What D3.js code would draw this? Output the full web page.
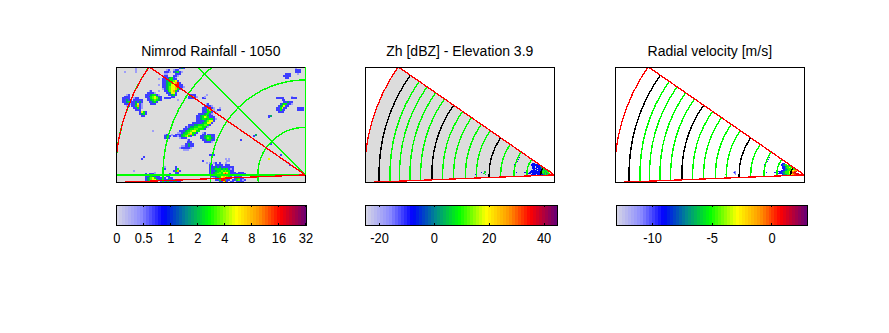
<!DOCTYPE html>
<html>
<head>
<meta charset="utf-8">
<script src="https://cdn.jsdelivr.net/npm/d3@7"></script>
<style>
body { margin: 0; background: #fff; }
text { font-family: "Liberation Sans", sans-serif; fill: #000; }
</style>
</head>
<body>
<div id="chart"></div>
<script>
// colormap shared by the three bars
const cmapStops = [0, 0.13, 0.247, 0.37, 0.49, 0.63, 0.75, 0.86, 1];
const cmapColors = ["#d8d8e4", "#8c8cff", "#0000ff", "#008c8c", "#00ff00", "#ffff00", "#ff9600", "#ff0000", "#640078"];

const titles = ["Nimrod Rainfall - 1050", "Zh [dBZ] - Elevation 3.9", "Radial velocity [m/s]"];

const rainTicks = [0, 0.5, 1, 2, 4, 8, 16, 32];
const zhTicks = [-20, 0, 20, 40];
const velTicks = [-10, -5, 0];
const zhDomain = [-25, 45];
const velDomain = [-13, 3];

// value of each digit used in the cell runs below
const rainLevels = [0, 0.35, 0.7, 1.8, 2.6, 3.6, 5.5, 9, 16, 28];
const zhLevels = [0, -15, -7, 3, 10, 18, 28, 36, 42, 44];
const velLevels = [0, -11, -9.5, -7, -5, -3, -1.5, 0, 1, 2.5];

// range rings on the rainfall map [km]
const rangeRings = [50, 100, 150, 200];
// bearings of the spokes on the rainfall map [deg]
const spokes = [315, 270];
// height rings on the scan panels: ground range [km]
const heightRings = [14.4, 29, 42.5, 56.5, 68.7, 82, 93.5, 106, 117.5, 129, 140.7, 152, 163, 173, 184.5];
const blackRings = [0, 4, 9, 14];
// scan sector
const sectorRange = 200;
const sectorAz = [267.7, 304.7];

// rainfall cells on a 2 km grid: [col, row, digits]
const rainRuns = [
  [4,2,"1"],[10,0,"1"],[10,1,"1"],[10,2,"1"],[22,6,"1"],[19,33,"1"],[32,17,"1"],[22,9,"1"],[22,12,"1"],
  [33,0,"232"],[26,1,"12"],[25,2,"2221"],[30,1,"122"],[30,2,"23421"],[31,3,"222"],[25,3,"11"],[24,4,"122"],[30,4,"221"],
  [25,5,"2223421"],[24,6,"22234422"],[24,7,"223344562"],[24,8,"2234456782"],[24,9,"22344668822"],
  [24,10,"223456678221"],[24,11,"12345667421"],[25,12,"22456742"],[26,13,"223662"],[27,14,"22342"],[29,15,"22"],
  [17,12,"12"],[16,13,"22221"],[15,14,"22234421"],[15,15,"223456422"],[16,16,"22456532.2222"],[16,17,"22345432"],[17,18,"22342"],[18,19,"222"],
  [5,14,"12"],[4,15,"222"],[3,16,"2222"],[3,17,"22322"],[3,18,"22342"],[4,19,"2221"],[5,20,"12"],
  [9,16,"122"],[9,17,"22222"],[8,18,"223232"],[8,19,"223621"],[8,20,"224721"],[9,21,"22421"],[10,22,"222"],
  [12,23,"2642"],[12,24,"2342"],[13,25,"22"],
  [39,14,"222"],[38,15,"24721"],[38,16,"2222"],[45,16,"22"],[46,15,"1"],[53,22,"22"],[54,21,"1"],[47,14,"1"],[52,23,"1"],
  [47,19,"12"],[46,20,"22221"],[45,21,"2227821"],[45,22,"2234761"],[45,23,"222442"],[43,24,"22234421"],[42,25,"223445322"],
  [42,26,"22346542"],[50,26,"22"],[42,27,"22344344421"],[42,28,"2222345662"],[40,29,"22222344662"],
  [38,30,"222334445542"],[36,31,"2123344554421"],[35,32,"222344554442"],[33,33,"22234456644"],
  [32,34,"11234456442"],[31,35,"22234457742"],[31,36,"212345642"],[33,37,"1222"],
  [25,35,"12"],[25,36,"2342.2"],[25,37,"232"],[29,35,"1"],
  [45,34,"12"],[45,35,"22.2222"],[44,36,"22344422"],[44,37,"22345432"],[45,38,"2234422"],[46,39,"22221"],
  [37,38,"12"],[37,39,"222"],[36,40,"22322"],[34,41,"1122322"],[33,42,"1222221"],[35,43,"111"],
  [84,16,"2"],[85,16,"222"],[87,17,"22"],[88,18,"22322"],[86,19,"2344221"],[85,20,"234622"],[84,21,"224622"],[84,22,"22422"],[85,23,"222"],
  [92,15,"1"],[92,16,"222"],[95,21,"2222"],[95,22,"2222"],[80,25,"23"],[80,26,"2"],
  [89,3,"222"],[88,4,"2222"],[89,5,"22"],[94,0,"1"],[94,1,"222"],[94,2,"222"],[95,3,"1"],
  [73,35,"3"],[72,36,"2"],[65,38,"2"],[49,46,"222"],[50,47,"1"],[45,49,"2"],[47,50,"1"],
  [57,48,"1.1"],[58,49,"11"],[57,50,"1"],[31,52,"2"],[31,53,"24"],[30,54,"2472"],[31,55,"22"],[31,56,"2"],
  [25,52,"1"],[25,53,"2"],[13,48,"2"],[14,47,"2"],[9,54,"1"],[80,48,"6"],[86,46,"2"],[91,51,"2"],[90,50,"1"],[81,40,"2"],
  [49,50,"1.12.2"],[49,51,"22.2222.222"],[49,52,"2223232222222"],[49,53,"2234443434212"],[49,54,"2223445454422"],
  [49,55,"22344546764222"],[49,56,"223455478742222"],[50,57,"22344676542.2222"],[51,58,"1234674422.23422"],
  [52,59,"22488422.2245212"],[54,60,"22682.22.2222"],[64,55,"222"],[64,56,"2222"],
  [15,56,"2.222"],[15,57,"2234322"],[15,58,"23456422"],[15,59,"23456642"],[15,60,"22342"],
  [22,57,"2.2.22"],[22,58,"2222.222"],[22,59,"23422342222"],[23,60,"22234223322"],[28,56,"2"],[20,55,"1"]
];

// echoes near the radar, 1 km cells: [km west edge, km north, digits]
const zhRuns = [
  [-24,13,"2.22"],[-25,12,"22222.2"],[-24,11,"222.222"],[-25,10,"22.2222222"],[-24,9,"2222.22223"],
  [-23,8,"222.222223.3"],[-24,7,"222222.2223344"],[-22,6,"22.22222334344"],
  [-25,5,"22.2222.222234343434"],[-30,4,"22..2222222222233444344"],
  [-32,3,"2222.2222.2222222334434344"],[-30,2,"22222.2222222222234343344"],[-25,1,"222222.222222334343443"],
  [-74,4,"34"],[-74,3,"43"],[-75,2,"34"],[-73,1,"3"],[-83,1,"2"],[-77,3,"2"],
  [-41,12,"2"],[-42,11,"22"],[-41,10,"2"],[-39,15,"2"],[-38,17,"2"],[-37,19,"2"],[-40,3,"2"]
];
const velRuns = [
  [-24,13,"2222"],[-25,12,"223342"],[-24,11,"223344"],[-25,10,"2223344442"],[-24,9,"2222334444"],
  [-23,8,"22234445443"],[-24,7,"22223344445444"],[-22,6,"22333444554455"],
  [-25,5,"22.223344444556666"],[-30,4,"2222222233444455566778"],
  [-32,3,"2222.222233344445667788"],[-28,2,"2222223344445566778888"],[-23,1,"233334445566778889"],
  [-74,4,"11"],[-75,3,"121"],[-74,2,"11"],[-73,1,"1"],[-83,1,"4"],
  [-41,12,"2"],[-42,11,"22"],[-41,10,"2"],[-39,15,"2"],[-38,17,"2"],[-37,19,"2"],[-40,3,"2"]
];

const width = 889;
const height = 333;
const panelW = 189;
const panelH = 115;
const panelY = 67;
const panelX = [116.3, 365.3, 615.3];
const barX = [[116.3, 306.5], [365.3, 557.3], [616.3, 807.3]];
const barY = 205;
const barH = 20;

const svg = d3.select("#chart").append("svg")
    .attr("width", width)
    .attr("height", height);

const cmap = d3.scaleLinear().domain(cmapStops).range(cmapColors).clamp(true);
const nBands = 64;
const band = f => cmap((Math.min(Math.floor(f * nBands), nBands - 1) + 0.5) / nBands);

const rainPos = d3.scaleLinear().domain(rainTicks).range(d3.range(8).map(k => k / 7.04)).clamp(true);
const zhPos = d3.scaleLinear().domain(zhDomain).range([0, 1]).clamp(true);
const velPos = d3.scaleLinear().domain(velDomain).range([0, 1]).clamp(true);

function runsToCells(runs, levels) {
    const cells = [];
    runs.forEach(function (run) {
        run[2].split("").forEach(function (ch, i) {
            if (ch !== ".") cells.push({ c: run[0] + i, r: run[1], v: levels[+ch] });
        });
    });
    return cells;
}

function drawPanel(idx) {
    const g = svg.append("g");
    const x0 = panelX[idx];
    const xKm = d3.scaleLinear().domain([-199, 0]).range([x0, x0 + panelW]);
    const yKm = d3.scaleLinear().domain([113.6, -7.45]).range([panelY, panelY + panelH]);
    const rPx = km => xKm(0) - xKm(-km);
    const origin = "translate(" + xKm(0) + "," + yKm(0) + ")";

    const clipId = "clip" + idx;
    svg.append("clipPath").attr("id", clipId).append("rect")
        .attr("x", x0).attr("y", panelY).attr("width", panelW).attr("height", panelH);
    const inner = g.append("g").attr("clip-path", "url(#" + clipId + ")");

    const az = d => d * Math.PI / 180;
    const sector = d3.arc().innerRadius(0).outerRadius(rPx(sectorRange))
        .startAngle(az(sectorAz[0])).endAngle(az(sectorAz[1]));

    if (idx === 0) {
        inner.append("rect").attr("x", x0).attr("y", panelY)
            .attr("width", panelW).attr("height", panelH).attr("fill", "#dcdcdc");
        inner.selectAll("rect.cell").data(runsToCells(rainRuns, rainLevels)).enter().append("rect")
            .attr("class", "cell")
            .attr("x", d => xKm(-199 + d.c * 2))
            .attr("y", d => yKm(113.6 - d.r * 2))
            .attr("width", 2)
            .attr("height", 2)
            .attr("shape-rendering", "crispEdges")
            .attr("fill", d => band(rainPos(d.v)));
    } else {
        if (idx === 1) {
            inner.append("path").attr("d", sector()).attr("transform", origin)
                .attr("fill", "#dcdcdc").attr("shape-rendering", "crispEdges");
        }
        const cells = idx === 1 ? runsToCells(zhRuns, zhLevels) : runsToCells(velRuns, velLevels);
        const pos = idx === 1 ? zhPos : velPos;
        inner.selectAll("rect.cell").data(cells).enter().append("rect")
            .attr("class", "cell")
            .attr("x", d => xKm(d.c))
            .attr("y", d => yKm(d.r))
            .attr("width", 1)
            .attr("height", 1)
            .attr("shape-rendering", "crispEdges")
            .attr("fill", d => band(pos(d.v)));
    }

    const ring = d3.arc().innerRadius(d => d.r).outerRadius(d => d.r)
        .startAngle(d => az(d.a0)).endAngle(d => az(d.a1));

    if (idx === 0) {
        inner.selectAll("path.ring").data(rangeRings.map(km => ({ r: rPx(km), a0: 0, a1: 360 }))).enter().append("path")
            .attr("d", ring).attr("transform", origin)
            .attr("fill", "none").attr("stroke", "#00ff00").attr("stroke-width", 1.4)
            .attr("shape-rendering", "crispEdges");
        inner.selectAll("line.spoke").data(spokes).enter().append("line")
            .attr("x1", xKm(0)).attr("y1", yKm(0))
            .attr("x2", d => xKm(0) + rPx(260) * Math.sin(az(d)))
            .attr("y2", d => yKm(0) - rPx(260) * Math.cos(az(d)))
            .attr("stroke", "#00ff00").attr("stroke-width", 1.4)
            .attr("shape-rendering", "crispEdges");
    } else {
        inner.selectAll("path.ring").data(heightRings.map((km, i) => ({ r: rPx(km), i: i, a0: sectorAz[0], a1: sectorAz[1] }))).enter().append("path")
            .attr("d", ring).attr("transform", origin)
            .attr("fill", "none")
            .attr("stroke", d => blackRings.includes(d.i) ? "#000" : "#00ff00")
            .attr("stroke-width", 1.4)
            .attr("shape-rendering", "crispEdges");
    }

    // panel box
    g.append("rect").attr("x", x0).attr("y", panelY)
        .attr("width", panelW).attr("height", panelH)
        .attr("fill", "none").attr("stroke", "#000").attr("stroke-width", 1)
        .attr("shape-rendering", "crispEdges");
    if (idx === 0) {
        // north spoke sits on the right frame
        g.append("line").attr("x1", xKm(0)).attr("x2", xKm(0)).attr("y1", panelY).attr("y2", yKm(0))
            .attr("stroke", "#00ff00").attr("stroke-width", 1.5).attr("shape-rendering", "crispEdges");
    }

    // sector outline in red on top
    inner.append("path").attr("d", sector()).attr("transform", origin)
        .attr("fill", "none").attr("stroke", "#ff0000").attr("stroke-width", 1.3)
        .attr("shape-rendering", "crispEdges");

    g.append("text")
        .attr("x", x0 + panelW / 2).attr("y", 56)
        .attr("text-anchor", "middle").attr("font-size", 14)
        .text(titles[idx]);
}

function drawBar(idx, pos, ticks) {
    const g = svg.append("g");
    const x = d3.scaleLinear().domain([0, 1]).range(barX[idx]);
    g.selectAll("rect").data(d3.range(nBands)).enter().append("rect")
        .attr("x", d => x(d / nBands))
        .attr("y", barY)
        .attr("width", d => x((d + 1) / nBands) - x(d / nBands) + 0.5)
        .attr("height", barH)
        .attr("shape-rendering", "crispEdges")
        .attr("fill", d => cmap((d + 0.5) / nBands));

    // piecewise scale in the tick domain for the axes
    const scale = d3.scaleLinear().domain(ticks).range(ticks.map(v => x(pos(v))));
    const bot = g.append("g").attr("transform", "translate(0," + (barY + barH) + ")")
        .call(d3.axisBottom(scale).tickValues(ticks).tickSize(-2).tickPadding(7).tickFormat(d => String(d)));
    g.append("g").attr("transform", "translate(0," + barY + ")")
        .call(d3.axisTop(scale).tickValues(ticks).tickSize(-2).tickFormat(""));
    g.selectAll(".domain").remove();
    g.selectAll(".tick line").attr("shape-rendering", "crispEdges").attr("stroke", "#000");
    bot.selectAll("text")
        .attr("font-size", 15)
        .attr("font-family", "Liberation Sans, sans-serif")
        .attr("fill", "#000")
        .attr("transform", "scale(0.86,1)");
    g.append("rect").attr("x", barX[idx][0]).attr("y", barY)
        .attr("width", barX[idx][1] - barX[idx][0]).attr("height", barH)
        .attr("fill", "none").attr("stroke", "#000").attr("shape-rendering", "crispEdges");
}

[0, 1, 2].forEach(drawPanel);
drawBar(0, rainPos, rainTicks);
drawBar(1, zhPos, zhTicks);
drawBar(2, velPos, velTicks);
</script>
</body>
</html>
